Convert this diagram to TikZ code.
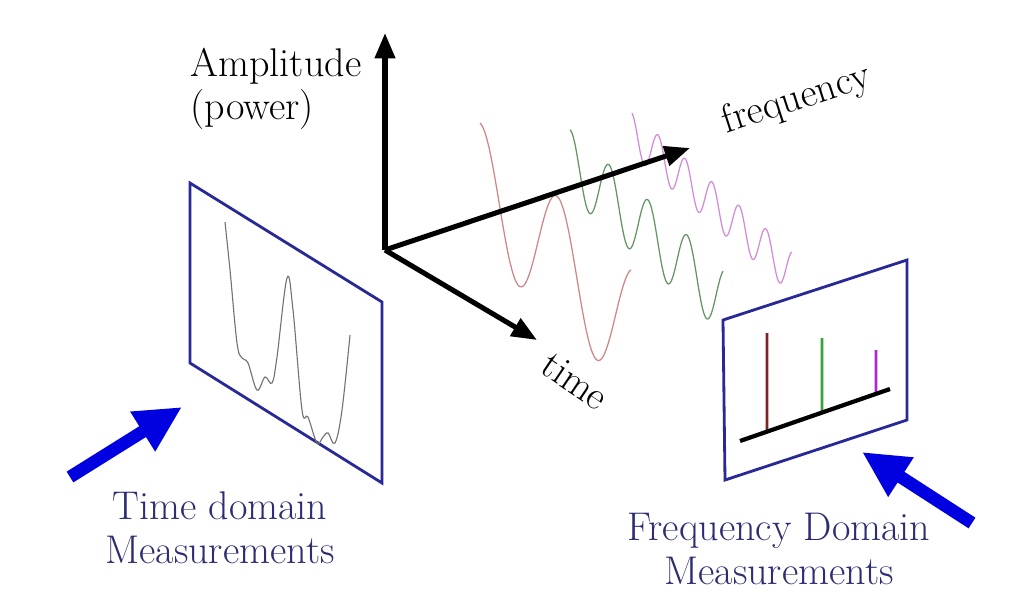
\documentclass[tikz,border=0pt]{standalone}
\usepackage{xcolor}
\usetikzlibrary{positioning, arrows.meta, calc}
\definecolor{panelblue}{RGB}{40,40,150}
\definecolor{labelblue}{RGB}{45,45,115}
\definecolor{arrowblue}{RGB}{0,0,225}
\definecolor{wavered}{RGB}{205,135,135}
\definecolor{wavegreen}{RGB}{100,150,100}
\definecolor{wavepurple}{RGB}{210,140,215}
\definecolor{specred}{RGB}{125,35,35}
\definecolor{specgreen}{RGB}{60,160,60}
\definecolor{specpurple}{RGB}{175,40,205}
\tikzset{
  bigfont/.style={font=\fontsize{28.5}{31}\selectfont},
  axis/.style={line width=3.6pt, -{Triangle[length=18pt,width=14pt]}},
  panel/.style={draw=panelblue, line width=2pt, line join=miter},
  fatarrow/.style={arrowblue, line width=9pt, -{Triangle[length=33pt,width=31pt]}},
  wave/.style={line width=0.9pt}
}
\begin{document}
\begin{tikzpicture}[x=0.025cm, y=-0.025cm]
      \useasboundingbox (0,0) rectangle (1012,612);
      % axes
      \coordinate (orig) at (385,250);
      \coordinate (amp) at (385,33);
      \coordinate (freq) at (690,148);
      \coordinate (tim) at (537,340);
      % signals
      \draw[wave, wavered] plot[domain=480:631, samples=150]
        (\x, {224+0.95*(\x-520)-63*cos(4.6452*(\x-480))});
      \draw[wave, wavegreen] plot[domain=570:723, samples=200]
        (\x, {196+0.9*(\x-607)-33*cos(9.2308*(\x-570))});
      \draw[wave, wavepurple] plot[domain=632:792, samples=250]
        (\x, {156+0.87*(\x-658)-21*cos(13.3333*(\x-631))});
      \draw[axis] (orig) -- (amp);
      \draw[axis] (orig) -- (freq);
      \draw[axis] (orig) -- (tim);
      \node[
      bigfont,
      align=left
      ] (amplbl) at (276,89) {Amplitude\\(power)};
      \node[
      bigfont,
      rotate=18
      ] (freqlbl) at (797,100) {frequency};
      \node[
      bigfont,
      rotate=-34
      ] (timelbl) at (575,381) {time};
      % time domain panel
      \draw[panel] (190,183) -- (382,302) -- (382,483) -- (190,363) -- cycle;
      \draw[gray!90!black, line width=0.8pt] plot[smooth, tension=0.6] coordinates {
        (225,222) (230,270) (237,343) (242,358) (248,363) (257,390)
        (265,377) (272,383) (277,357) (287,278) (293,310) (302,410)
        (308,417) (317,443) (323,437) (328,433) (335,443) (342,410)
        (350,335)};
      % frequency domain panel
      \draw[panel] (723,320) -- (907,260) -- (907,420) -- (725,480) -- cycle;
      \coordinate (specl) at (740,441);
      \coordinate (specr) at (890,389);
      \draw[specred, line width=2pt] (767,333) -- ($(specl)!0.18!(specr)$);
      \draw[specgreen, line width=2pt] (822,338) -- ($(specl)!0.547!(specr)$);
      \draw[specpurple, line width=2pt] (876,350) -- ($(specl)!0.907!(specr)$);
      \draw[line width=3pt] (specl) -- (specr);
      % pointers
      \coordinate (tdtail) at (70,477);
      \coordinate (tdtip) at (182,407);
      \coordinate (fdtail) at (972,523);
      \coordinate (fdtip) at (862,452);
      \draw[fatarrow] (tdtail) -- (tdtip);
      \draw[fatarrow] (fdtail) -- (fdtip);
      \node[
      bigfont,
      align=center,
      text=labelblue
      ] (tdlbl) at (220,528) {Time domain\\Measurements};
      \node[
      bigfont,
      align=center,
      text=labelblue
      ] (fdlbl) at (779,549) {Frequency Domain\\Measurements};
    \end{tikzpicture}
\end{document}
